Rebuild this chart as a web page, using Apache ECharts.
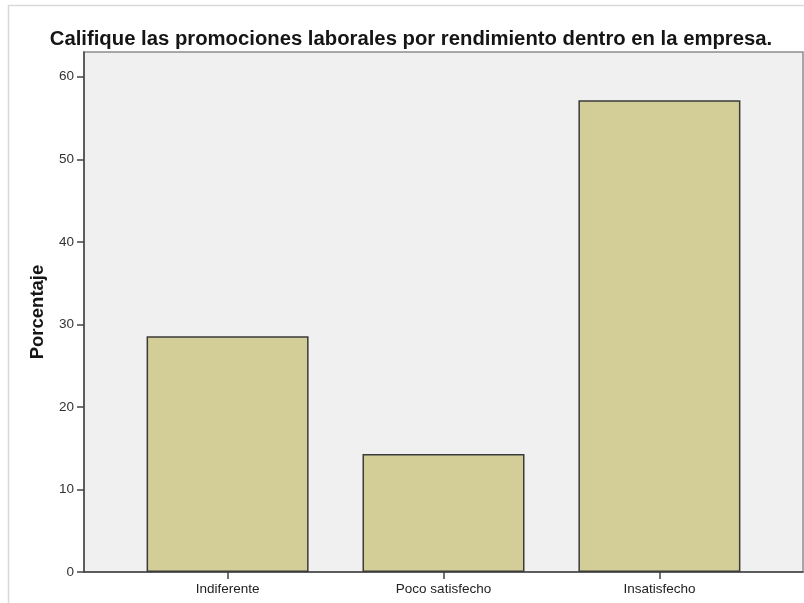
<!DOCTYPE html>
<html>
<head>
<meta charset="utf-8">
<script src="https://cdn.jsdelivr.net/npm/echarts@6/dist/echarts.min.js"></script>
<style>
  html, body { margin: 0; padding: 0; background: #ffffff; }
  #chart { width: 804px; height: 603px; }
</style>
</head>
<body>
<div id="chart"></div>
<script>
// Survey answers and their share of respondents (%)
const categories = ['Indiferente', 'Poco satisfecho', 'Insatisfecho'];
const percentages = [28.57, 14.29, 57.14];
const yTicks = [0, 10, 20, 30, 40, 50, 60];

const positions = categories.map((_, i) => i);
const barData = percentages.map((v, i) => [positions[i], v]);

const chart = echarts.init(document.getElementById('chart'), null, { renderer: 'canvas' });

chart.setOption({
  animation: false,
  backgroundColor: '#ffffff',
  graphic: [{
    type: 'rect',
    shape: { x: 8.5, y: 5.5, width: 820, height: 620 },
    style: { fill: 'none', stroke: '#d9d9d9', lineWidth: 1.5 },
    z: -1
  }],
  title: {
    text: 'Califique las promociones laborales por rendimiento dentro en la empresa.',
    left: 406,
    textAlign: 'center',
    top: 24,
    textStyle: {
      fontFamily: 'Liberation Sans, Arial, sans-serif',
      fontSize: 20.3,
      fontWeight: 'bold',
      color: '#151515'
    }
  },
  grid: {
    left: 84,
    top: 52,
    width: 719,
    bottom: 31,
    show: true,
    backgroundColor: '#f0f0f0',
    borderColor: '#8c8c8c',
    borderWidth: 1.5
  },
  xAxis: {
    type: 'value',
    min: -0.665,
    max: 2.665,
    splitLine: { show: false },
    axisLine: { show: true, onZero: false, lineStyle: { color: '#444444', width: 1.5 } },
    axisTick: {
      show: true,
      customValues: positions,
      length: 7,
      lineStyle: { color: '#444444', width: 1.5 }
    },
    axisLabel: {
      customValues: positions,
      margin: 10,
      fontFamily: 'Liberation Sans, Arial, sans-serif',
      fontSize: 13.5,
      color: '#222222',
      formatter: v => categories[Math.round(v)]
    }
  },
  yAxis: {
    type: 'value',
    min: 0,
    max: 63,
    interval: 10,
    name: 'Porcentaje',
    nameLocation: 'middle',
    nameRotate: 90,
    nameGap: 37,
    nameTextStyle: {
      fontFamily: 'Liberation Sans, Arial, sans-serif',
      fontSize: 18.5,
      fontWeight: 'bold',
      color: '#151515'
    },
    splitLine: { show: false },
    axisLine: { show: true, onZero: false, lineStyle: { color: '#444444', width: 1.5 } },
    axisTick: { show: true, length: 7, customValues: yTicks, lineStyle: { color: '#444444', width: 1.5 } },
    axisLabel: {
      margin: 10,
      fontFamily: 'Liberation Sans, Arial, sans-serif',
      fontSize: 13.5,
      color: '#333333',
      customValues: yTicks
    }
  },
  series: [{
    type: 'bar',
    data: barData,
    barWidth: 162,
    itemStyle: {
      color: '#d3ce98',
      borderColor: '#3a3a3a',
      borderWidth: 1.5
    }
  }]
});
</script>
</body>
</html>
